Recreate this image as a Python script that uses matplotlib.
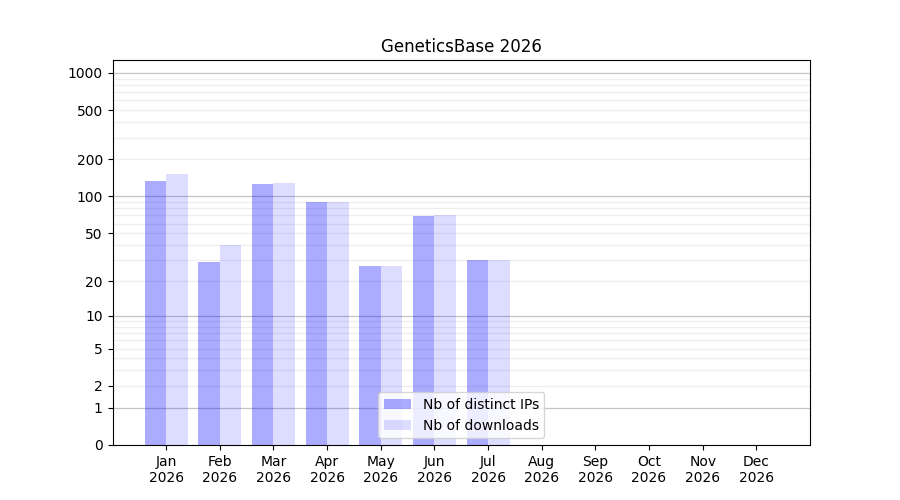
import numpy as np
import matplotlib
matplotlib.use("Agg")
import matplotlib.pyplot as plt
from matplotlib.ticker import FixedLocator, FixedFormatter

months = ["Jan", "Feb", "Mar", "Apr", "May", "Jun", "Jul", "Aug", "Sep", "Oct", "Nov", "Dec"]
year = "2026"
distinct_ips = [134, 29, 126, 90, 27, 69, 30]
downloads = [152, 40, 128, 90, 27, 71, 30]
yticks = [0, 1, 2, 5, 10, 20, 50, 100, 200, 500, 1000]

def fwd(y):
    y = np.asarray(y, dtype=float)
    return np.log10(1 + np.clip(y, 0, None))

def inv(y):
    return 10 ** np.asarray(y, dtype=float) - 1

fig, ax = plt.subplots(figsize=(9, 5), dpi=100)
ax.set_yscale("function", functions=(fwd, inv))

x = np.arange(len(distinct_ips))
ax.bar(x - 0.4, distinct_ips, width=0.4, align="edge", color="blue", alpha=0.33,
       label="Nb of distinct IPs", zorder=2)
ax.bar(x, downloads, width=0.4, align="edge", color="blue", alpha=0.133,
       label="Nb of downloads", zorder=2)

ax.set_xlim(-1, 12)
ax.set_ylim(0, 1273)
ax.set_xticks(np.arange(12))
ax.set_xticklabels([f"{m}\n{year}" for m in months])

ax.yaxis.set_major_locator(FixedLocator(yticks))
ax.yaxis.set_major_formatter(FixedFormatter([str(t) for t in yticks]))
minor = [v * 10 ** e for e in range(0, 3) for v in range(2, 10)]
ax.yaxis.set_minor_locator(FixedLocator(minor))
ax.tick_params(axis="y", which="minor", length=0)

for v in [1, 10, 100, 1000]:
    ax.axhline(v, color="#c4c4c4", lw=0.9, zorder=1)
for v in minor:
    ax.axhline(v, color="#eeeeee", lw=0.9, zorder=1)

ax.set_title("GeneticsBase 2026")
ax.legend(loc="lower center")
fig.savefig("out.png")
